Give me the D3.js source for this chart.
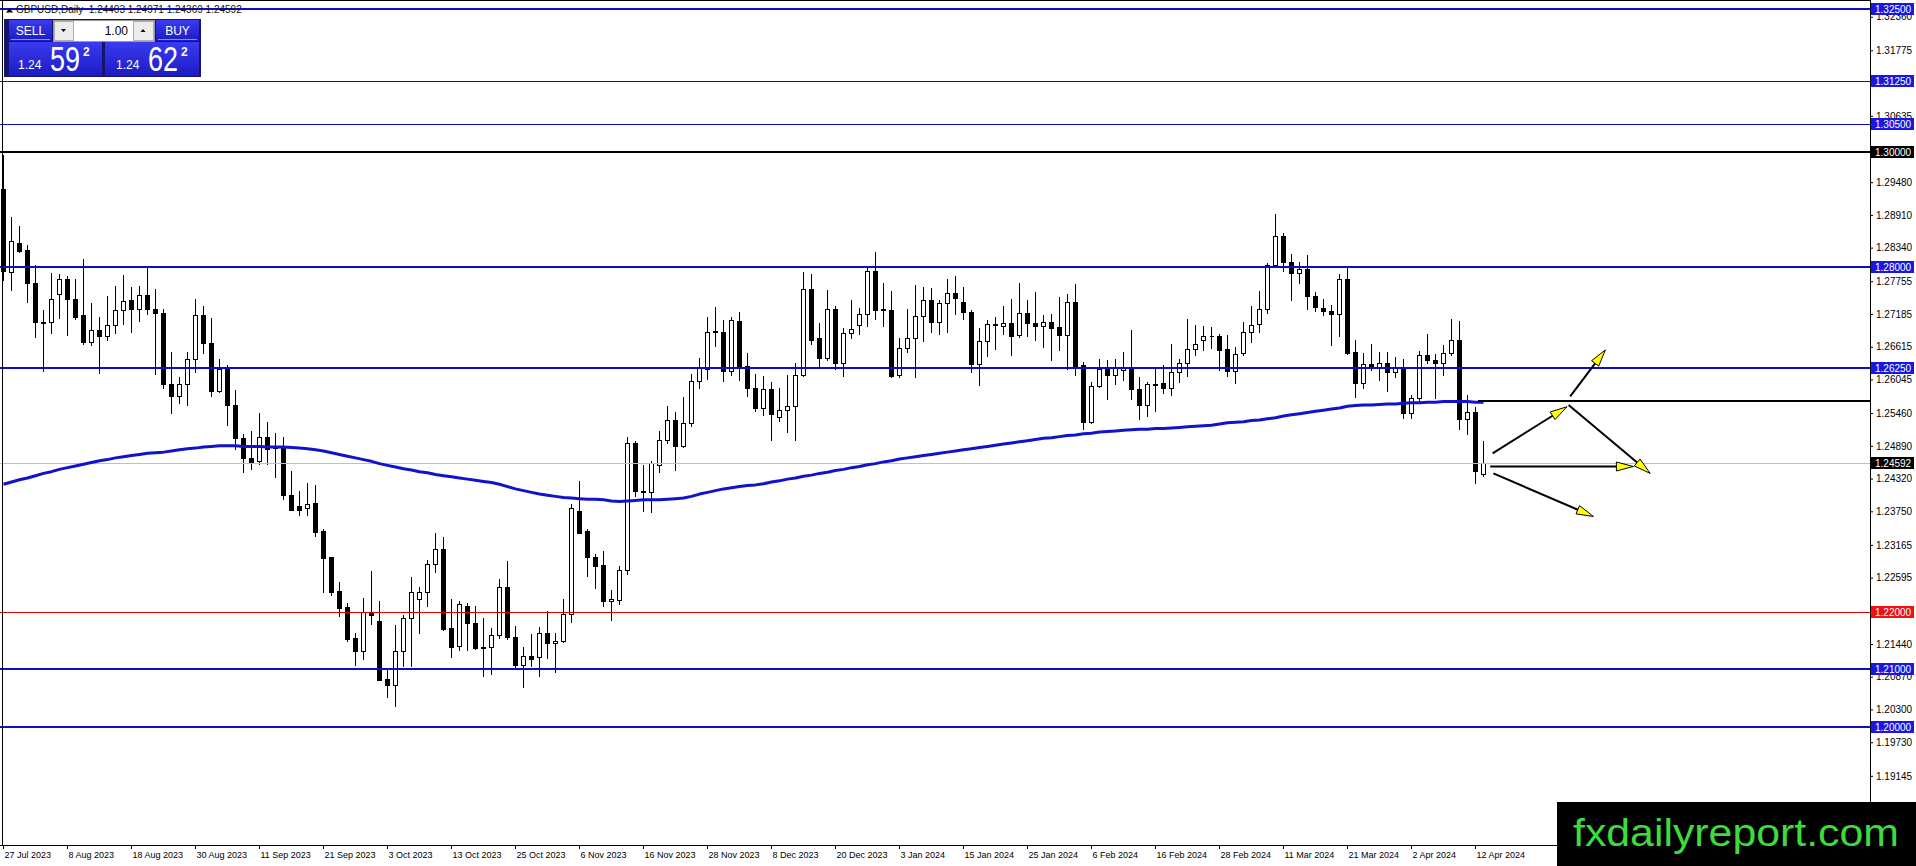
<!DOCTYPE html>
<html>
<head>
<meta charset="utf-8">
<script src="https://cdn.jsdelivr.net/npm/d3@7"></script>
<style>
  html, body { margin: 0; padding: 0; background: #fff; overflow: hidden; }
  svg { display: block; font-family: "Liberation Sans", Arial, sans-serif; }
  text { white-space: pre; }
</style>
</head>
<body>
<svg id="chart" width="1916" height="866"></svg>
<script>
// GBPUSD daily, 27 Jul 2023 - 15 Apr 2024
const symbol = "GBPUSD,Daily";
const lastQuote = [1.24403, 1.24971, 1.24369, 1.24592];

const dates = ["27 Jul 2023","8 Aug 2023","18 Aug 2023","30 Aug 2023","11 Sep 2023","21 Sep 2023",
  "3 Oct 2023","13 Oct 2023","25 Oct 2023","6 Nov 2023","16 Nov 2023","28 Nov 2023","8 Dec 2023",
  "20 Dec 2023","3 Jan 2024","15 Jan 2024","25 Jan 2024","6 Feb 2024","16 Feb 2024","28 Feb 2024",
  "11 Mar 2024","21 Mar 2024","2 Apr 2024","12 Apr 2024"];

const opens = [
  1.2936,1.2792,1.2842,1.2830,1.2772,1.2705,1.2704,1.2753,1.2779,1.2745,
  1.2716,1.2670,1.2691,1.2680,1.2700,1.2726,1.2743,1.2728,1.2752,1.2727,
  1.2720,1.2597,1.2576,1.2597,1.2640,1.2717,1.2668,1.2584,1.2622,1.2560,
  1.2503,1.2468,1.2463,1.2505,1.2486,1.2487,1.2404,1.2384,1.2380,1.2389,
  1.2340,1.2295,1.2236,1.2208,1.2155,1.2131,1.2200,1.2184,1.2083,1.2072,
  1.2131,1.2189,1.2222,1.2234,1.2283,1.2309,1.2171,1.2140,1.2211,1.2181,
  1.2137,1.2138,1.2159,1.2244,1.2156,1.2107,1.2123,1.2121,1.2163,1.2145,
  1.2149,1.2197,1.2375,1.2340,1.2295,1.2281,1.2218,1.2221,1.2273,1.2494,
  1.2410,1.2409,1.2456,1.2500,1.2534,1.2489,1.2529,1.2601,1.2623,1.2688,
  1.2688,1.2619,1.2706,1.2628,1.2590,1.2555,1.2588,1.2539,1.2551,1.2559,
  1.2613,1.2762,1.2676,1.2642,1.2727,1.2633,1.2686,1.2699,1.2719,1.2793,
  1.2727,1.2726,1.2613,1.2659,1.2677,1.2715,1.2743,1.2704,1.2738,1.2755,
  1.2739,1.2722,1.2631,1.2672,1.2701,1.2698,1.2703,1.2682,1.2720,1.2703,
  1.2697,1.2705,1.2695,1.2682,1.2739,1.2629,1.2531,1.2593,1.2623,1.2613,
  1.2621,1.2624,1.2588,1.2560,1.2596,1.2598,1.2590,1.2618,1.2633,1.2657,
  1.2674,1.2681,1.2681,1.2657,1.2619,1.2650,1.2687,1.2701,1.2727,1.2804,
  1.2855,1.2809,1.2790,1.2796,1.2750,1.2729,1.2724,1.2719,1.2779,1.2653,
  1.2599,1.2632,1.2627,1.2633,1.2618,1.2624,1.2547,1.2573,1.2647,1.2639,
  1.2633,1.2651,1.2674,1.2536,1.2548,1.24403];

const highs = [
  1.2995,1.2887,1.2872,1.2839,1.2803,1.2726,1.2790,1.2788,1.2785,1.2779,
  1.2815,1.2737,1.2713,1.2750,1.2767,1.2787,1.2765,1.2767,1.2800,1.2762,
  1.2727,1.2653,1.2609,1.2653,1.2745,1.2733,1.2712,1.2641,1.2630,1.2587,
  1.2509,1.2514,1.2546,1.2530,1.2512,1.2505,1.2445,1.2410,1.2424,1.2420,
  1.2344,1.2295,1.2252,1.2215,1.2163,1.2224,1.2271,1.2218,1.2100,1.2177,
  1.2195,1.2260,1.2243,1.2291,1.2337,1.2331,1.2223,1.2219,1.2215,1.2210,
  1.2190,1.2171,1.2257,1.2288,1.2176,1.2138,1.2162,1.2173,1.2201,1.2163,
  1.2223,1.2388,1.2427,1.2345,1.2300,1.2306,1.2238,1.2280,1.2505,1.2498,
  1.2455,1.2463,1.2515,1.2558,1.2548,1.2574,1.2614,1.2642,1.2713,1.2731,
  1.2708,1.2714,1.2722,1.2650,1.2614,1.2611,1.2600,1.2589,1.2613,1.2633,
  1.2792,1.2789,1.2703,1.2761,1.2732,1.2694,1.2743,1.2729,1.2801,1.2826,
  1.2772,1.2759,1.2676,1.2728,1.2769,1.2765,1.2764,1.2743,1.2779,1.2785,
  1.2765,1.2726,1.2694,1.2708,1.2714,1.2732,1.2745,1.2772,1.2742,1.2757,
  1.2717,1.2719,1.2748,1.2754,1.2771,1.2635,1.2600,1.2641,1.2638,1.2641,
  1.2653,1.2691,1.2609,1.2600,1.2624,1.2629,1.2667,1.2640,1.2709,1.2700,
  1.2698,1.2695,1.2684,1.2682,1.2661,1.2705,1.2733,1.2759,1.2808,1.2893,
  1.2859,1.2823,1.2809,1.2822,1.2756,1.2745,1.2735,1.2788,1.2800,1.2674,
  1.2651,1.2667,1.2653,1.2653,1.2644,1.2640,1.2577,1.2654,1.2683,1.2649,
  1.2664,1.2710,1.2707,1.2577,1.2557,1.24971];

const lows = [
  1.2778,1.2761,1.2826,1.2739,1.2678,1.2620,1.2686,1.2711,1.2682,1.2709,
  1.2667,1.2664,1.2616,1.2674,1.2686,1.2701,1.2687,1.2707,1.2719,1.2614,
  1.2590,1.2547,1.2564,1.2560,1.2618,1.2651,1.2576,1.2582,1.2526,1.2483,
  1.2444,1.2448,1.2457,1.2458,1.2434,1.2396,1.2377,1.2368,1.2368,1.2332,
  1.2235,1.2229,1.2193,1.2149,1.2108,1.2118,1.2178,1.2082,1.2051,1.2036,
  1.2106,1.2105,1.2163,1.2211,1.2269,1.2169,1.2121,1.2134,1.2133,1.2136,
  1.2089,1.2092,1.2154,1.2153,1.2104,1.2069,1.2105,1.2089,1.2119,1.2095,
  1.2148,1.2183,1.2337,1.2262,1.2241,1.2211,1.2186,1.2214,1.2266,1.2402,
  1.2375,1.2373,1.2443,1.2494,1.2447,1.2487,1.2523,1.2590,1.2606,1.2662,
  1.2602,1.2612,1.2603,1.2576,1.2549,1.2543,1.2500,1.2532,1.2513,1.2499,
  1.2611,1.2666,1.2627,1.2638,1.2623,1.2610,1.2676,1.2683,1.2697,1.2710,
  1.2698,1.2609,1.2609,1.2653,1.2609,1.2671,1.2687,1.2684,1.2688,1.2718,
  1.2710,1.2617,1.2595,1.2646,1.2658,1.2684,1.2647,1.2679,1.2680,1.2673,
  1.2661,1.2638,1.2655,1.2622,1.2612,1.2518,1.2529,1.2592,1.2571,1.2597,
  1.2603,1.2571,1.2535,1.2541,1.2550,1.2581,1.2577,1.2600,1.2610,1.2647,
  1.2655,1.2660,1.2621,1.2610,1.2599,1.2647,1.2669,1.2687,1.2721,1.2803,
  1.2793,1.2743,1.2772,1.2728,1.2723,1.2716,1.2665,1.2681,1.2648,1.2574,
  1.2590,1.2621,1.2603,1.2584,1.2609,1.2538,1.2538,1.2567,1.2633,1.2573,
  1.2612,1.2647,1.2518,1.2510,1.2425,1.24369];

const closes = [
  1.2793,1.2845,1.2829,1.2772,1.2704,1.2703,1.2745,1.2779,1.2745,1.2713,
  1.2669,1.2691,1.2680,1.2700,1.2726,1.2741,1.2728,1.2752,1.2727,1.2720,
  1.2597,1.2576,1.2597,1.2640,1.2717,1.2668,1.2584,1.2622,1.2560,1.2503,
  1.2467,1.2461,1.2505,1.2484,1.2488,1.2403,1.2377,1.2378,1.2388,1.2339,
  1.2293,1.2234,1.2207,1.2153,1.2131,1.2199,1.2195,1.2082,1.2072,1.2131,
  1.2189,1.2234,1.2234,1.2283,1.2309,1.2170,1.2138,1.2213,1.2180,1.2137,
  1.2138,1.2159,1.2244,1.2156,1.2107,1.2123,1.2117,1.2163,1.2145,1.2149,
  1.2197,1.2380,1.2338,1.2295,1.2280,1.2218,1.2223,1.2273,1.2494,1.2410,
  1.2408,1.2459,1.2500,1.2534,1.2489,1.2529,1.2601,1.2625,1.2688,1.2689,
  1.2619,1.2708,1.2626,1.2590,1.2555,1.2588,1.2545,1.2551,1.2559,1.2613,
  1.2762,1.2673,1.2642,1.2727,1.2633,1.2686,1.2692,1.2719,1.2793,1.2726,
  1.2725,1.2611,1.2659,1.2677,1.2715,1.2743,1.2704,1.2738,1.2755,1.2746,
  1.2722,1.2631,1.2672,1.2701,1.2699,1.2703,1.2680,1.2720,1.2703,1.2697,
  1.2704,1.2694,1.2682,1.2739,1.2628,1.2531,1.2593,1.2623,1.2613,1.2625,
  1.2624,1.2588,1.2560,1.2596,1.2595,1.2590,1.2618,1.2633,1.2657,1.2666,
  1.2681,1.2680,1.2655,1.2619,1.2648,1.2687,1.2700,1.2727,1.2804,1.2855,
  1.2809,1.2790,1.2796,1.2749,1.2731,1.2723,1.2719,1.2779,1.2651,1.2599,
  1.2632,1.2626,1.2633,1.2618,1.2624,1.2547,1.2573,1.2647,1.2638,1.2633,
  1.2651,1.2674,1.2536,1.2548,1.2445,1.24592];

// moving average (thick blue line)
const ma = [
  1.2422,1.2426,1.2430,1.2433,1.2437,1.2441,1.2444,1.2448,1.2451,1.2454,
  1.2457,1.2460,1.2463,1.2465,1.2468,1.2470,1.2472,1.2474,1.2476,1.2477,
  1.2478,1.2480,1.2482,1.2484,1.2485,1.2487,1.2488,1.2489,1.2489,1.2489,
  1.2488,1.2488,1.2488,1.2487,1.2487,1.2487,1.2486,1.2485,1.2484,1.2482,
  1.2480,1.2477,1.2474,1.2471,1.2468,1.2465,1.2462,1.2458,1.2455,1.2452,
  1.2449,1.2447,1.2444,1.2442,1.2439,1.2437,1.2435,1.2433,1.2431,1.2429,
  1.2427,1.2425,1.2422,1.2418,1.2414,1.2411,1.2408,1.2405,1.2403,1.2401,
  1.2399,1.2398,1.2397,1.2396,1.2396,1.2395,1.2393,1.2392,1.2393,1.2394,
  1.2395,1.2395,1.2395,1.2396,1.2397,1.2398,1.2401,1.2405,1.2408,1.2411,
  1.2414,1.2416,1.2418,1.2420,1.2421,1.2423,1.2426,1.2428,1.2431,1.2433,
  1.2436,1.2438,1.2441,1.2443,1.2446,1.2448,1.2451,1.2453,1.2456,1.2458,
  1.2461,1.2463,1.2466,1.2468,1.2470,1.2472,1.2474,1.2476,1.2478,1.2480,
  1.2482,1.2484,1.2486,1.2488,1.2490,1.2492,1.2494,1.2496,1.2498,1.2500,
  1.2502,1.2503,1.2505,1.2507,1.2508,1.2510,1.2511,1.2513,1.2514,1.2515,
  1.2516,1.2517,1.2518,1.2518,1.2519,1.2519,1.2520,1.2521,1.2522,1.2523,
  1.2524,1.2525,1.2527,1.2529,1.2530,1.2531,1.2533,1.2534,1.2536,1.2538,
  1.2541,1.2543,1.2545,1.2547,1.2549,1.2551,1.2553,1.2555,1.2558,1.2559,
  1.2560,1.2560,1.2561,1.2562,1.2562,1.2563,1.2564,1.2564,1.2565,1.2565,
  1.2566,1.2566,1.2566,1.2566,1.2565,1.2565];

// horizontal levels drawn on the chart
const blueLevels = [1.325, 1.3125, 1.305, 1.28, 1.2625, 1.21, 1.20];
const blackLevels = [1.30];
const redLevels = [1.22];
const ceilingLine = { fromBar: 184.4, price: 1.2567 };

// right scale tick labels
const priceTicks = [1.32360,1.31775,1.30635,1.29480,1.28910,1.28340,1.27755,1.27185,1.26615,
  1.26045,1.25460,1.24890,1.24320,1.23750,1.23165,1.22595,1.21440,1.20870,1.20300,1.19730,1.19145];

// scenario arrows: [startBar, startPrice, endBar, endPrice]
const arrows = [
  [186.2, 1.2476, 195.5, 1.2557],
  [195.9, 1.2575, 200.3, 1.2656],
  [195.7, 1.2560, 205.9, 1.2441],
  [185.9, 1.2453, 203.8, 1.2453],
  [186.3, 1.2441, 198.8, 1.2366]
];

// one-click panel quotes
const bidParts = ["1.24", "59", "2"];
const askParts = ["1.24", "62", "2"];
const lotSize = "1.00";
const brand = "fxdailyreport.com";

// ---------------------------------------------------------------
const width = 1916, height = 866;
const plotRight = 1870, plotBottom = 845;
const levelBlue = "#0d0dc8";

const svg = d3.select("#chart");

let x = d3.scaleLinear()
  .domain([0, (plotRight - 3) / 8])
  .range([3, plotRight]);

let y = d3.scaleLinear()
  .domain([1.179405, 1.326515])
  .range([plotBottom, 0]);

const px = i => Math.round(x(i));
const py = p => Math.round(y(p));

const bars = opens.map((o, i) => ({ i: i, o: o, h: highs[i], l: lows[i], c: closes[i] }));

svg.append("defs").append("clipPath").attr("id", "plotclip")
  .append("rect").attr("x", 0).attr("y", 0).attr("width", plotRight).attr("height", plotBottom);

const plot = svg.append("g").attr("clip-path", "url(#plotclip)");

// candles
plot.append("g")
  .attr("shape-rendering", "crispEdges")
  .selectAll("line")
  .data(bars)
  .enter().append("line")
  .attr("x1", d => px(d.i) + 0.5)
  .attr("x2", d => px(d.i) + 0.5)
  .attr("y1", d => py(d.h))
  .attr("y2", d => py(d.l) + 1)
  .attr("stroke", "#000")
  .attr("stroke-width", 1);

plot.append("g")
  .attr("shape-rendering", "crispEdges")
  .selectAll("path")
  .data(bars)
  .enter().append("path")
  .attr("d", d => {
    let top = py(Math.max(d.o, d.c));
    let bot = py(Math.min(d.o, d.c));
    return `M${px(d.i) - 1.5},${top + 0.5}h4v${bot - top}h-4z`;
  })
  .attr("fill", d => d.c >= d.o ? "#fff" : "#000")
  .attr("stroke", "#000")
  .attr("stroke-width", 1);

// level lines
const levelG = plot.append("g").attr("shape-rendering", "crispEdges");
const thinLevels = [1.3125, 1.305];

levelG.selectAll(".blue")
  .data(blueLevels)
  .enter().append("line")
  .attr("x1", 0).attr("x2", plotRight)
  .attr("y1", d => py(d)).attr("y2", d => py(d))
  .attr("stroke", levelBlue)
  .attr("stroke-width", d => thinLevels.includes(d) ? 1 : 2);

levelG.selectAll(".black")
  .data(blackLevels)
  .enter().append("line")
  .attr("x1", 0).attr("x2", plotRight)
  .attr("y1", d => py(d)).attr("y2", d => py(d))
  .attr("stroke", "#000").attr("stroke-width", 2);

levelG.selectAll(".red")
  .data(redLevels)
  .enter().append("line")
  .attr("x1", 0).attr("x2", plotRight)
  .attr("y1", d => py(d) + 0.5).attr("y2", d => py(d) + 0.5)
  .attr("stroke", "#e00000").attr("stroke-width", 1);

// bid line
levelG.append("line")
  .attr("x1", 0).attr("x2", plotRight)
  .attr("y1", py(lastQuote[3]) + 0.5).attr("y2", py(lastQuote[3]) + 0.5)
  .attr("stroke", "#c0c0c0").attr("stroke-width", 1);

// moving average
plot.append("path")
  .datum(ma)
  .attr("d", d3.line().x((d, i) => x(i) + 0.5).y(d => y(d)))
  .attr("fill", "none")
  .attr("stroke", "#1212cc")
  .attr("stroke-width", 3)
  .attr("stroke-linejoin", "round");

// horizontal line from last bar
plot.append("line")
  .attr("x1", x(ceilingLine.fromBar)).attr("x2", plotRight)
  .attr("y1", py(ceilingLine.price)).attr("y2", py(ceilingLine.price))
  .attr("stroke", "#000").attr("stroke-width", 2)
  .attr("shape-rendering", "crispEdges");

// arrows
const arrowG = plot.append("g");
arrows.forEach(a => {
  let x1 = x(a[0]), y1 = y(a[1]), x2 = x(a[2]), y2 = y(a[3]);
  let len = Math.hypot(x2 - x1, y2 - y1);
  let ux = (x2 - x1) / len, uy = (y2 - y1) / len;
  let headLen = 17, half = 4.5;
  let bx = x2 - ux * headLen, by = y2 - uy * headLen;
  arrowG.append("line")
    .attr("x1", x1).attr("y1", y1)
    .attr("x2", bx).attr("y2", by)
    .attr("stroke", "#000").attr("stroke-width", 2);
  arrowG.append("path")
    .attr("d", `M${x2},${y2}L${bx - uy * half},${by + ux * half}L${bx + uy * half},${by - ux * half}Z`)
    .attr("fill", "#ffff00")
    .attr("stroke", "#000")
    .attr("stroke-width", 1);
});

// frame
const frame = svg.append("g").attr("shape-rendering", "crispEdges");
frame.append("line").attr("x1", 2.5).attr("x2", 2.5).attr("y1", 0).attr("y2", plotBottom).attr("stroke", "#000");
frame.append("line").attr("x1", 0).attr("x2", plotRight).attr("y1", 0.5).attr("y2", 0.5).attr("stroke", "#000");
frame.append("line").attr("x1", plotRight + 0.5).attr("x2", plotRight + 0.5).attr("y1", 0).attr("y2", plotBottom).attr("stroke", "#000");
frame.append("line").attr("x1", 0).attr("x2", plotRight + 1).attr("y1", plotBottom + 0.5).attr("y2", plotBottom + 0.5).attr("stroke", "#000");

// right price axis
let yAxis = svg.append("g")
  .attr("transform", `translate(${plotRight},0)`)
  .call(d3.axisRight(y).tickValues(priceTicks).tickSize(3).tickSizeOuter(0).tickFormat(d3.format(".5f")));
yAxis.select(".domain").remove();
yAxis.selectAll("line").attr("stroke", "#000");
yAxis.selectAll("text")
  .attr("x", 6)
  .attr("fill", "#000")
  .style("font-family", "'Liberation Sans', Arial, sans-serif")
  .style("font-size", "10px");

// level labels on the axis
function axisTag(price, bg) {
  let g = svg.append("g").attr("transform", `translate(${plotRight + 1},${py(price)})`);
  g.append("rect")
    .attr("x", 0).attr("y", -6).attr("width", 43).attr("height", 12)
    .attr("fill", bg);
  g.append("text")
    .attr("x", 4).attr("y", 0).attr("dy", "0.35em")
    .attr("fill", "#fff")
    .style("font-size", "10px")
    .text(d3.format(".5f")(price));
}
blueLevels.forEach(p => axisTag(p, "#1818e0"));
blackLevels.forEach(p => axisTag(p, "#000"));
redLevels.forEach(p => axisTag(p, "#ee1111"));
axisTag(lastQuote[3], "#000");

// time axis
let xAxis = svg.append("g")
  .attr("transform", `translate(0,${plotBottom})`)
  .call(d3.axisBottom(x).tickValues(dates.map((d, k) => k * 8)).tickSize(4).tickSizeOuter(0)
    .tickFormat((d, k) => dates[k]));
xAxis.select(".domain").remove();
xAxis.selectAll("line").attr("stroke", "#000");
xAxis.selectAll("text")
  .attr("text-anchor", "start")
  .attr("x", 1)
  .attr("fill", "#000")
  .style("font-family", "'Liberation Sans', Arial, sans-serif")
  .style("font-size", "9px");

// header
svg.append("path")
  .attr("d", "M6,12.5L9.5,8L13,12.5Z")
  .attr("fill", "#000");
svg.append("text")
  .attr("x", 16).attr("y", 13)
  .attr("fill", "#111")
  .style("font-size", "10px")
  .text(`${symbol}  ${lastQuote.map(d3.format(".5f")).join(" ")}`);

// one click trading panel
const panel = svg.append("g").attr("shape-rendering", "crispEdges");
let grad = svg.select("defs").append("linearGradient")
  .attr("id", "btn").attr("x1", 0).attr("y1", 0).attr("x2", 0).attr("y2", 1);
grad.append("stop").attr("offset", "0%").attr("stop-color", "#3a3af0");
grad.append("stop").attr("offset", "100%").attr("stop-color", "#1c1cc4");

panel.append("rect").attr("x", 4).attr("y", 19).attr("width", 197).attr("height", 58).attr("fill", "#15156e");
panel.append("rect").attr("x", 9).attr("y", 20).attr("width", 43).attr("height", 21).attr("fill", "url(#btn)");
panel.append("rect").attr("x", 156).attr("y", 20).attr("width", 43).attr("height", 21).attr("fill", "url(#btn)");
panel.append("line").attr("x1", 11).attr("x2", 50).attr("y1", 39.5).attr("y2", 39.5).attr("stroke", "#8c8cff");
panel.append("line").attr("x1", 158).attr("x2", 197).attr("y1", 39.5).attr("y2", 39.5).attr("stroke", "#8c8cff");
panel.append("rect").attr("x", 53).attr("y", 20).attr("width", 101).attr("height", 21).attr("fill", "#fff").attr("stroke", "#9a9a9a");
panel.append("rect").attr("x", 54).attr("y", 21).attr("width", 19).attr("height", 19).attr("fill", "#ececec").attr("stroke", "#b0b0b0");
panel.append("rect").attr("x", 133).attr("y", 21).attr("width", 20).attr("height", 19).attr("fill", "#ececec").attr("stroke", "#b0b0b0");
panel.append("rect").attr("x", 9).attr("y", 42).attr("width", 93).attr("height", 34).attr("fill", "url(#btn)");
panel.append("rect").attr("x", 105).attr("y", 42).attr("width", 94).attr("height", 34).attr("fill", "url(#btn)");

svg.append("path").attr("d", "M61,29L66,29L63.5,32Z").attr("fill", "#000");
svg.append("path").attr("d", "M140.5,32L145.5,32L143,29Z").attr("fill", "#000");
svg.append("text").attr("x", 128).attr("y", 35).attr("text-anchor", "end")
  .attr("fill", "#000").style("font-size", "12px").text(lotSize);
svg.append("text").attr("x", 30.5).attr("y", 35).attr("text-anchor", "middle")
  .attr("fill", "#fff").style("font-size", "12px").text("SELL");
svg.append("text").attr("x", 177.5).attr("y", 35).attr("text-anchor", "middle")
  .attr("fill", "#fff").style("font-size", "12px").text("BUY");

// big digits are tall and narrow: scale a smaller font vertically
function quoteBox(parts, x0) {
  svg.append("text").attr("x", x0).attr("y", 69)
    .attr("fill", "#fff").style("font-size", "12px").text(parts[0]);
  svg.append("text")
    .attr("transform", `translate(${x0 + 32},71) scale(1,1.3)`)
    .attr("fill", "#fff").style("font-size", "27px")
    .text(parts[1]);
  svg.append("text").attr("x", x0 + 65).attr("y", 56)
    .attr("fill", "#fff").style("font-size", "12px").style("font-weight", "bold").text(parts[2]);
}
quoteBox(bidParts, 18);
quoteBox(askParts, 116);

// brand box
svg.append("rect")
  .attr("x", 1557).attr("y", 802).attr("width", width - 1557).attr("height", height - 802)
  .attr("fill", "#000");
svg.append("text")
  .attr("x", 1573).attr("y", 846)
  .attr("fill", "#3ddc3d")
  .attr("textLength", 326).attr("lengthAdjust", "spacingAndGlyphs")
  .style("font-size", "38px")
  .text(brand);
</script>
</body>
</html>
